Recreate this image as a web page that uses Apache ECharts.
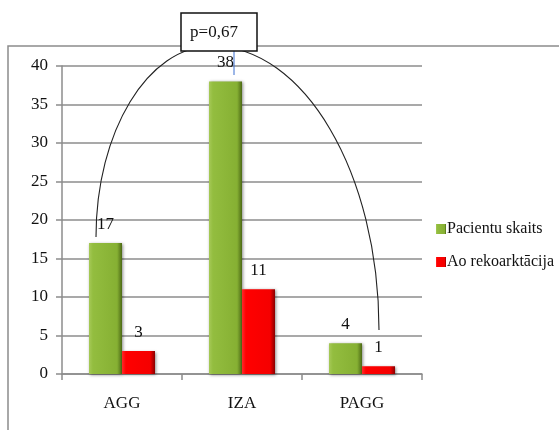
<!DOCTYPE html>
<html>
<head>
<meta charset="utf-8">
<script src="https://cdn.jsdelivr.net/npm/echarts@6/dist/echarts.min.js"></script>
<style>
html,body{margin:0;padding:0;background:#fff;}
#chart{width:559px;height:430px;}
</style>
</head>
<body>
<div id="chart"></div>
<script>
var categories = ['AGG', 'IZA', 'PAGG'];
var pacientuSkaits = [17, 38, 4];
var aoRekoarktacija = [3, 11, 1];
var seriesNames = ['Pacientu skaits', 'Ao rekoarktācija'];
var pValueText = 'p=0,67';

var FONT = '"Liberation Serif", "Times New Roman", serif';

var greenGrad = new echarts.graphic.LinearGradient(0, 0, 1, 0, [
  {offset: 0, color: '#a6c957'},
  {offset: 0.12, color: '#93bd3f'},
  {offset: 0.85, color: '#86b033'},
  {offset: 1, color: '#4d6a16'}
]);
var redGrad = new echarts.graphic.LinearGradient(0, 0, 1, 0, [
  {offset: 0, color: '#ff2a2a'},
  {offset: 0.12, color: '#ff0000'},
  {offset: 0.85, color: '#f50000'},
  {offset: 1, color: '#8a0000'}
]);

var chart = echarts.init(document.getElementById('chart'), null, {renderer: 'canvas'});
var labelStyle = {
  show: true, position: 'top', distance: 10,
  fontFamily: FONT, fontSize: 17, color: '#111'
};
chart.setOption({
  animation: false,
  backgroundColor: '#fff',
  grid: {left: 62, right: 137, top: 66, bottom: 56},
  legend: {
    orient: 'vertical',
    left: 431, top: 216,
    itemWidth: 10, itemHeight: 10, itemGap: 17,
    icon: 'rect',
    textStyle: {fontFamily: FONT, fontSize: 16, color: '#111', padding: [0, 0, 0, -4]},
    data: seriesNames
  },
  xAxis: {
    type: 'category',
    data: categories,
    axisLine: {lineStyle: {color: '#8c8c8c', width: 1.5}},
    axisTick: {show: true, length: 6, lineStyle: {color: '#8c8c8c', width: 1.5}},
    axisLabel: {fontFamily: FONT, fontSize: 17, color: '#111', margin: 21}
  },
  yAxis: {
    type: 'value',
    min: 0, max: 40, interval: 5,
    axisLine: {show: true, lineStyle: {color: '#8c8c8c', width: 1.5}},
    axisTick: {show: true, length: 6, lineStyle: {color: '#8c8c8c', width: 1.5}},
    axisLabel: {fontFamily: FONT, fontSize: 17, color: '#111', margin: 14},
    splitLine: {lineStyle: {color: '#8c8c8c', width: 1.5}}
  },
  series: [
    {
      name: seriesNames[0], type: 'bar', data: pacientuSkaits,
      barWidth: 33, barGap: '0%',
      itemStyle: {color: greenGrad, shadowBlur: 3, shadowColor: 'rgba(0,0,0,0.45)', shadowOffsetX: 1, shadowOffsetY: 1},
      label: labelStyle
    },
    {
      name: seriesNames[1], type: 'bar', data: aoRekoarktacija,
      barWidth: 33,
      itemStyle: {color: redGrad, shadowBlur: 3, shadowColor: 'rgba(0,0,0,0.45)', shadowOffsetX: 1, shadowOffsetY: 1},
      label: labelStyle
    }
  ],
  graphic: [
    {
      type: 'polyline', z: 50, silent: true,
      shape: {points: [[8, 430], [8, 46], [559, 46]]},
      style: {stroke: '#8c8c8c', lineWidth: 1.5, fill: null}
    },
    {
      type: 'bezierCurve', z: 60, silent: true,
      shape: {x1: 96, y1: 237, cpx1: 96, cpy1: 131.5, cpx2: 147.9, cpy2: 46, x2: 212, y2: 46},
      style: {stroke: '#222', lineWidth: 1.1, fill: null}
    },
    {
      type: 'bezierCurve', z: 60, silent: true,
      shape: {x1: 212, y1: 46, cpx1: 304.2, cpy1: 46, cpx2: 379, cpy2: 173.1, x2: 379, y2: 330},
      style: {stroke: '#222', lineWidth: 1.1, fill: null}
    },
    {
      type: 'line', z: 61, silent: true,
      shape: {x1: 234, y1: 50, x2: 234, y2: 75},
      style: {stroke: '#3a6fd0', lineWidth: 1}
    },
    {
      type: 'rect', z: 70, silent: true,
      shape: {x: 181, y: 13, width: 76, height: 38},
      style: {fill: '#fff', stroke: '#111', lineWidth: 1.5}
    },
    {
      type: 'text', z: 71, silent: true,
      x: 214, y: 33,
      style: {text: pValueText, font: '17px ' + FONT, fill: '#111', align: 'center', verticalAlign: 'middle'}
    }
  ]
});
</script>
</body>
</html>
